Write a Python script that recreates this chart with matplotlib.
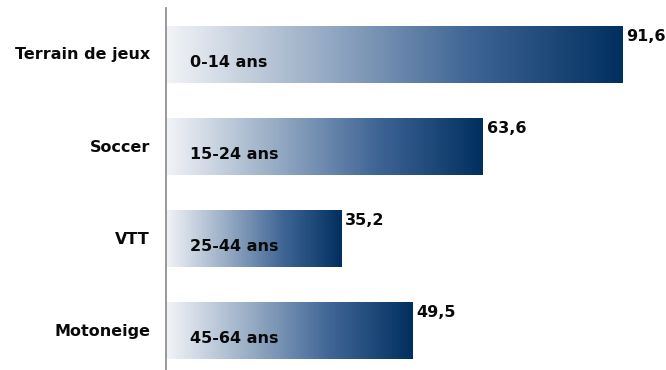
import numpy as np
import matplotlib.pyplot as plt
from matplotlib.colors import LinearSegmentedColormap

categories = ["Terrain de jeux", "Soccer", "VTT", "Motoneige"]
age_groups = ["0-14 ans", "15-24 ans", "25-44 ans", "45-64 ans"]
values = [91.6, 63.6, 35.2, 49.5]
value_labels = ["91,6", "63,6", "35,2", "49,5"]

fig = plt.figure(figsize=(6.66, 3.70), dpi=100)
ax = fig.add_axes([166 / 666, 0, 1 - 166 / 666, 362 / 370])

cmap = LinearSegmentedColormap.from_list("grad", ["#f2f4f7", "#9aaec6", "#3f6595", "#00305f"])
grad = np.linspace(0, 1, 256).reshape(1, -1)
h = 0.61

for i, v in enumerate(values):
    ax.imshow(grad, cmap=cmap, aspect="auto", extent=(0, v, i + h / 2, i - h / 2), zorder=2)
    ax.text(4.8, i + 0.08, age_groups[i], ha="left", va="center",
            fontsize=11.5, fontweight="bold", color="#0a0a0a", zorder=3)
    ax.text(v + 0.8, i - 0.2, value_labels[i], ha="left", va="center",
            fontsize=11.5, fontweight="bold", color="#0a0a0a", zorder=3)
    ax.text(-3.2, i, categories[i], ha="right", va="center",
            fontsize=11.5, fontweight="bold", color="#0a0a0a")

ax.set_xlim(0, 100.4)
ax.set_ylim(3.42, -0.51)
ax.set_xticks([])
ax.set_yticks([i - h / 2 for i in range(4)])
ax.set_yticklabels([])
ax.tick_params(axis="y", direction="in", length=2, width=2, color="#555555")
for s in ["top", "right", "bottom"]:
    ax.spines[s].set_visible(False)
ax.spines["left"].set_color("#888888")
ax.spines["left"].set_linewidth(1.2)

plt.savefig("out.png", dpi=100)
